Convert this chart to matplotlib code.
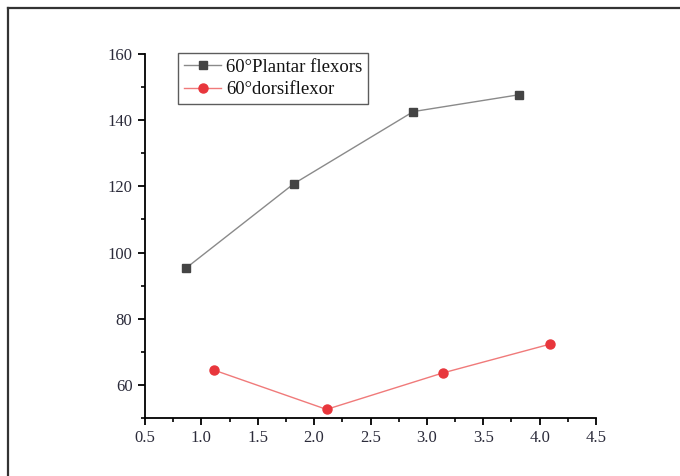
import matplotlib
matplotlib.use('Agg')
import matplotlib.pyplot as plt
from matplotlib.lines import Line2D
from matplotlib.ticker import MultipleLocator, FuncFormatter

# values
plantar_x = [0.86, 1.82, 2.88, 3.82]
plantar_y = [95.2, 120.8, 142.6, 147.7]
dorsi_x = [1.11, 2.11, 3.14, 4.09]
dorsi_y = [64.5, 52.6, 63.6, 72.3]
series_labels = ['60°Plantar flexors', '60°dorsiflexor']

plt.rcParams['font.family'] = ['Liberation Serif', 'DejaVu Serif']

fig = plt.figure(figsize=(6.8, 4.76), dpi=100)
# outer frame lines (top and left only visible)
fig.add_artist(Line2D([8 / 680, 8 / 680], [0, 1 - 8 / 476], color='#333333', lw=1.6, transform=fig.transFigure))
fig.add_artist(Line2D([8 / 680, 1], [1 - 8 / 476, 1 - 8 / 476], color='#333333', lw=1.6, transform=fig.transFigure))

ax = fig.add_axes([145 / 680, 1 - 418 / 476, 451 / 680, 364 / 476])

ax.plot(plantar_x, plantar_y, color='#8a8a8a', lw=1.0, marker='s', markersize=6,
        markerfacecolor='#444444', markeredgecolor='#444444', label=series_labels[0])
ax.plot(dorsi_x, dorsi_y, color='#f07a7a', lw=1.0, marker='o', markersize=6.5,
        markerfacecolor='#e8363c', markeredgecolor='#e8363c', label=series_labels[1])

ax.set_xlim(0.5, 4.5)
ax.set_ylim(50, 160)
ax.xaxis.set_major_locator(MultipleLocator(0.5))
ax.xaxis.set_minor_locator(MultipleLocator(0.25))
ax.yaxis.set_major_locator(MultipleLocator(20))
ax.yaxis.set_minor_locator(MultipleLocator(10))
ax.set_yticks([60, 80, 100, 120, 140, 160])
ax.xaxis.set_major_formatter(FuncFormatter(lambda v, p: '%.1f' % v))

for s in ['top', 'right']:
    ax.spines[s].set_visible(False)
for s in ['left', 'bottom']:
    ax.spines[s].set_linewidth(1.3)
ax.tick_params(which='major', direction='out', length=5, width=1.3, labelsize=12, colors='black', pad=4)
ax.tick_params(which='minor', direction='out', length=3, width=1.2)
for lbl in ax.get_xticklabels() + ax.get_yticklabels():
    lbl.set_color('#2b2b3a')

leg = ax.legend(loc='upper left', bbox_to_anchor=(0.074, 1.003), fontsize=13.5, frameon=True,
                fancybox=False, edgecolor='#333333', handlelength=2.0, borderpad=0.3,
                labelspacing=0.3, handletextpad=0.25, borderaxespad=0.0)
leg.get_frame().set_linewidth(1.0)
for t in leg.get_texts():
    t.set_color('#111111')

plt.savefig('out.png', dpi=100)
plt.close()
